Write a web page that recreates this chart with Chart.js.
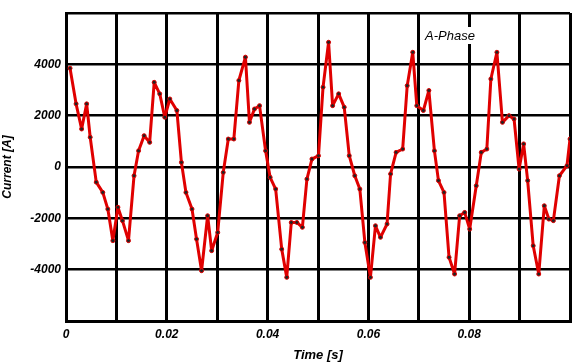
<!DOCTYPE html>
<html>
<head>
<meta charset="utf-8">
<script src="https://cdn.jsdelivr.net/npm/chart.js@4/dist/chart.umd.min.js"></script>
<style>
html,body{margin:0;padding:0;background:#fff;}
#wrap{width:576px;height:363px;position:relative;}
</style>
</head>
<body>
<div id="wrap"><canvas id="c" width="576" height="363"></canvas></div>
<script>
const times = [0.0008,0.0020,0.0031,0.0041,0.0048,0.0060,0.0073,0.0083,0.0093,0.0103,0.0112,0.0124,0.0135,0.0144,0.0155,0.0166,0.0175,0.0186,0.0196,0.0206,0.0220,0.0229,0.0238,0.0250,0.0259,0.0269,0.0281,0.0289,0.0301,0.0312,0.0322,0.0333,0.0343,0.0356,0.0364,0.0374,0.0384,0.0396,0.0405,0.0416,0.0428,0.0438,0.0447,0.0458,0.0469,0.0478,0.0488,0.0501,0.0510,0.0521,0.0529,0.0541,0.0552,0.0562,0.0573,0.0583,0.0593,0.0604,0.0614,0.0624,0.0637,0.0644,0.0655,0.0668,0.0677,0.0688,0.0696,0.0709,0.0720,0.0731,0.0739,0.0750,0.0760,0.0771,0.0781,0.0791,0.0801,0.0814,0.0824,0.0835,0.0843,0.0855,0.0866,0.0879,0.0889,0.0899,0.0908,0.0916,0.0927,0.0938,0.0949,0.0958,0.0967,0.0979,0.0994,0.1000];
const currents = [3850,2460,1480,2460,1160,-590,-990,-1640,-2870,-1570,-2090,-2870,-340,630,1220,960,3300,2850,1940,2650,2200,180,-990,-1640,-2810,-4040,-1900,-3260,-2550,-210,1090,1090,3370,4280,1740,2260,2390,630,-400,-860,-3200,-4300,-2160,-2160,-2350,-470,310,440,3110,4860,2390,2850,2330,440,-340,-860,-2940,-4300,-2290,-2740,-2220,-270,570,700,3170,4470,2390,2200,2980,630,-530,-990,-3520,-4170,-1900,-1770,-2420,-730,570,700,3430,4470,1740,2000,1870,-80,900,-530,-3070,-4170,-1510,-2030,-2090,-340,50,1090];
const xTickLabels = ['0','0.02','0.04','0.06','0.08'];
const yTickLabels = ['4000','2000','0','-2000','-4000'];

const data = times.map((t,i)=>({x:t,y:currents[i]}));

const labelPlugin = {
  id:'phaseLabel',
  afterDraw(chart){
    const ctx = chart.ctx;
    ctx.save();
    ctx.font = 'italic 13px "Liberation Sans", Arial, sans-serif';
    const txt = 'A-Phase';
    const w = ctx.measureText(txt).width;
    const x = 425, y = 36;
    ctx.fillStyle = '#fff';
    ctx.fillRect(x-2, y-9, w+4, 17);
    ctx.fillStyle = '#000';
    ctx.textBaseline = 'middle';
    ctx.fillText(txt, x, y);
    ctx.restore();
  }
};

const tickFont = {family:'"Liberation Sans", Arial, sans-serif', size:12, weight:'bold', style:'italic'};

new Chart(document.getElementById('c'), {
  type:'line',
  data:{datasets:[{
    data:data,
    borderColor:'#e00000',
    borderWidth:3,
    borderJoinStyle:'round',
    borderCapStyle:'round',
    pointRadius:2,
    pointBackgroundColor:'#222',
    pointBorderColor:'#e00000',
    pointBorderWidth:1,
    tension:0,
    fill:false
  }]},
  options:{
    responsive:false,
    animation:false,
    layout:{padding:{top:13,right:0,left:0,bottom:0}},
    plugins:{legend:{display:false},tooltip:{enabled:false}},
    scales:{
      x:{
        type:'linear',min:0,max:0.1,
        ticks:{stepSize:0.01,color:'#000',font:tickFont,padding:6,maxRotation:0,autoSkip:false,
          callback:(v,i)=> (i%2===0 && i/2 < xTickLabels.length) ? xTickLabels[i/2] : ''},
        grid:{color:'#000',lineWidth:3,drawTicks:false},
        border:{display:true,color:'#000',width:3},
        title:{display:true,text:'Time [s]',color:'#000',font:{family:'"Liberation Sans", Arial, sans-serif',size:13,weight:'bold',style:'italic'},padding:{top:1,bottom:0}},
        afterFit:(s)=>{s.height=42;}
      },
      y:{
        min:-6000,max:6000,
        ticks:{stepSize:2000,color:'#000',font:tickFont,padding:5,
          callback:(v)=>{const idx=[4000,2000,0,-2000,-4000].indexOf(v); return idx>=0?yTickLabels[idx]:'';}},
        grid:{color:'#000',lineWidth:2.5,drawTicks:false},
        border:{display:true,color:'#000',width:3},
        title:{display:true,text:'Current [A]',color:'#000',font:{family:'"Liberation Sans", Arial, sans-serif',size:12,weight:'bold',style:'italic'},padding:{top:0,bottom:2}},
        afterFit:(s)=>{s.width=66;}
      }
    }
  },
  plugins:[labelPlugin]
});
</script>
</body>
</html>
